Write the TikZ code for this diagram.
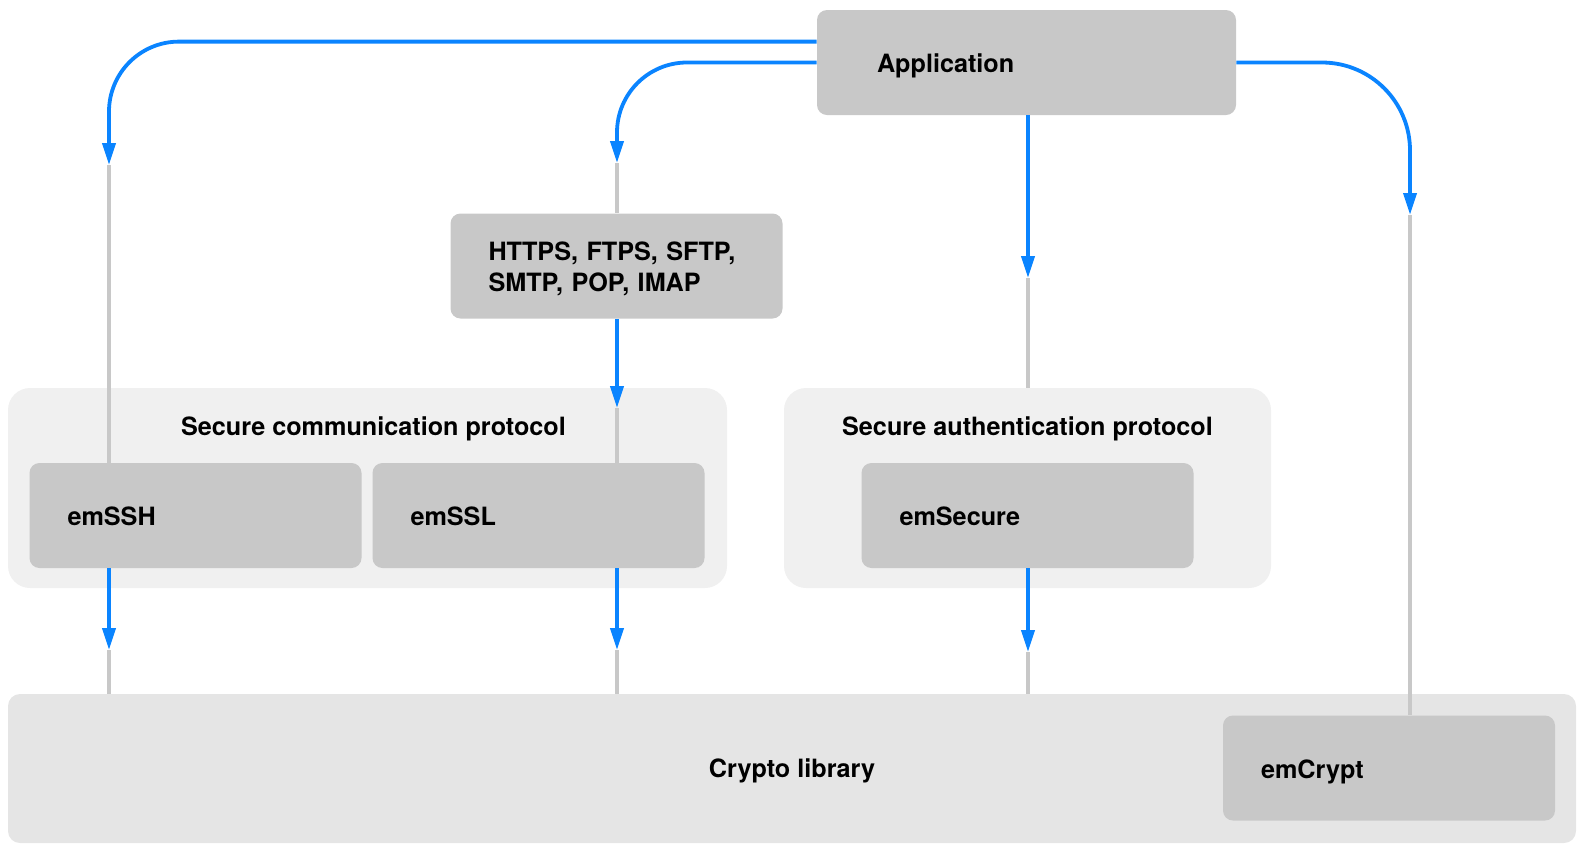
\documentclass[tikz,border=0pt]{standalone}
\usepackage{fontspec}
\setmainfont{TeX Gyre Heros}
\usepackage{tikz}
\usetikzlibrary{arrows.meta, positioning, calc}
\definecolor{flowblue}{HTML}{0A84FF}
\definecolor{boxgray}{HTML}{C8C8C8}
\definecolor{groupgray}{HTML}{F0F0F0}
\definecolor{libgray}{HTML}{E5E5E5}

\begin{document}
\begin{tikzpicture}[
  x=0.5pt, y=-0.5pt,
  module/.style={fill=boxgray, rounded corners=5pt, minimum height=52.5pt, text width=128pt, inner xsep=19pt, align=left, font=\bfseries\fontsize{12.6pt}{15.5pt}\selectfont},
  oneline/.style={text height=10pt, text depth=0pt},
  group/.style={fill=groupgray, rounded corners=11pt, minimum height=100pt},
  heading/.style={anchor=base, font=\bfseries\fontsize{12.6pt}{15.5pt}\selectfont},
  flow/.style={draw=flowblue, line width=1.9pt, -{Triangle[length=11pt, width=6.5pt]}},
  wire/.style={draw=boxgray, line width=1.7pt},
]
\useasboundingbox (0,0) rectangle (1582,848);

% Crypto library
\node[fill=libgray, rounded corners=6pt, minimum width=784pt, minimum height=74.5pt, text height=9pt, text depth=0pt, font=\bfseries\fontsize{12.6pt}{15.5pt}\selectfont] (crypto) at (792,768.5) {Crypto library};
\node[module, oneline] (emcrypt) at (1389,768) {emCrypt};

% Protocol groups
\node[group, minimum width=359.5pt] (comm) at (367.5,488) {};
\node[group, minimum width=243.5pt] (auth) at (1027.5,488) {};
\node[heading] (commtitle) at (373.5,435) {Secure communication protocol};
\node[heading] (authtitle) at (1027.5,435) {Secure authentication protocol};
\node[module, oneline] (ssh)    at (195.5,515.5)  {emSSH};
\node[module, oneline] (ssl)    at (538.5,515.5)  {emSSL};
\node[module, oneline] (secure) at (1027.5,515.5) {emSecure};

% Application and protocols
\node[module, text height=9pt, text depth=15pt] (https) at (616.5,266) {HTTPS, FTPS, SFTP,\\SMTP, POP, IMAP};
\node[module, oneline, text width=149.5pt, inner xsep=30pt] (app) at (1026.5,62.5) {Application};

% Arrow tips
\coordinate (t1) at (109,165);
\coordinate (t2) at (617,163);
\coordinate (t3) at (617,408);
\coordinate (t4) at (1028,278);
\coordinate (t5) at (1410,215);
\coordinate (t6) at (109,650);
\coordinate (t7) at (617,650);
\coordinate (t8) at (1028,652);

% From the application
\draw[flow, rounded corners=35pt] ($(app.north west)+(0,32)$) -| (t1);
\draw[wire] (t1) -- (t1 |- ssh.north);
\draw[flow, rounded corners=35pt] (app.west) -| (t2);
\draw[wire] (t2) -- (t2 |- https.north);
\draw[flow] (https.south -| t3) -- (t3);
\draw[wire] (t3) -- (t3 |- ssl.north);
\draw[flow] (app.south -| t4) -- (t4);
\draw[wire] (t4) -- (t4 |- auth.north);
\draw[flow, rounded corners=44pt] (app.east) -| (t5);
\draw[wire] (t5) -- (t5 |- emcrypt.north);

% Down to the crypto library
\draw[flow] (ssh.south -| t6) -- (t6);
\draw[wire] (t6) -- (t6 |- crypto.north);
\draw[flow] (ssl.south -| t7) -- (t7);
\draw[wire] (t7) -- (t7 |- crypto.north);
\draw[flow] (secure.south -| t8) -- (t8);
\draw[wire] (t8) -- (t8 |- crypto.north);

\end{tikzpicture}
\end{document}
